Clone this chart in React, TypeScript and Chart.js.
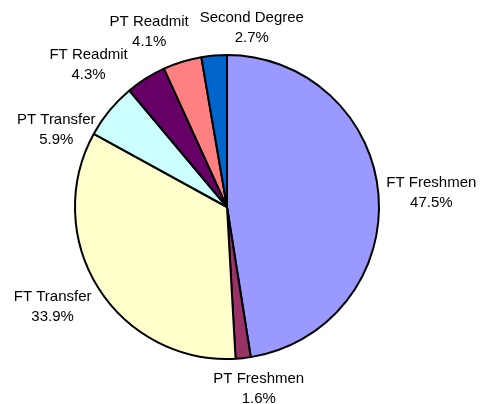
import React, { useEffect, useRef } from "react";
import { Chart, registerables } from "chart.js";

Chart.register(...registerables);

const categories = ["FT Freshmen", "PT Freshmen", "FT Transfer", "PT Transfer", "FT Readmit", "PT Readmit", "Second Degree"];
const shares = [47.5, 1.6, 33.9, 5.9, 4.3, 4.1, 2.7];
const sliceColors = ["#9999FF", "#993366", "#FFFFCC", "#CCFFFF", "#660066", "#FF8080", "#0066CC"];
// label placement nudges (degrees / px) so labels spread out like the original
const labelAngleShift = [0, -2.6, 0.1, -12.85, -9.2, -4.8, 11.55];
const labelRadialExtra = [0, 4, 7, -8.4, 10, 9, 0.6];

const labelPlugin = {
  id: "outsideLabels",
  afterDatasetsDraw(chart: any) {
    const ctx = chart.ctx;
    const meta = chart.getDatasetMeta(0);
    ctx.save();
    ctx.font = "15px 'Liberation Sans', Arial, sans-serif";
    ctx.fillStyle = "#000";
    ctx.textAlign = "center";
    ctx.textBaseline = "middle";
    const lineH = 20;
    const gap = 8;
    meta.data.forEach((arc: any, i: number) => {
      const { x, y, startAngle, endAngle, outerRadius } = arc.getProps(["x", "y", "startAngle", "endAngle", "outerRadius"], true);
      const mid = (startAngle + endAngle) / 2 + (labelAngleShift[i] * Math.PI) / 180;
      const c = Math.cos(mid);
      const s = Math.sin(mid);
      const l1 = categories[i];
      const l2 = shares[i].toFixed(1) + "%";
      const w = Math.max(ctx.measureText(l1).width, ctx.measureText(l2).width);
      const h = lineH * 2;
      const rr = outerRadius + gap + labelRadialExtra[i];
      const ax = x + rr * c;
      const ay = y + rr * s;
      const cx = ax + (w / 2) * c;
      const cy = ay + (h / 2) * s;
      ctx.fillText(l1, cx, cy - lineH / 2);
      ctx.fillText(l2, cx, cy + lineH / 2);
    });
    ctx.restore();
  },
};

export default function App() {
  const ref = useRef<HTMLCanvasElement>(null);
  useEffect(() => {
    if (!ref.current) return;
    const chart = new Chart(ref.current, {
      type: "pie",
      data: {
        labels: categories,
        datasets: [
          {
            data: shares,
            backgroundColor: sliceColors,
            borderColor: "#000",
            borderWidth: 2,
          },
        ],
      },
      options: {
        animation: false,
        responsive: false,
        maintainAspectRatio: false,
        layout: { padding: { left: 74, right: 101, top: 54, bottom: 44 } },
        plugins: {
          legend: { display: false },
          tooltip: { enabled: false },
        },
      },
      plugins: [labelPlugin],
    });
    return () => chart.destroy();
  }, []);
  return (
    <div style={{ position: "absolute", left: 0, top: 0, width: 481, height: 404, background: "#fff" }}>
      <canvas ref={ref} width={481} height={404} style={{ width: 481, height: 404, display: "block" }} />
    </div>
  );
}
